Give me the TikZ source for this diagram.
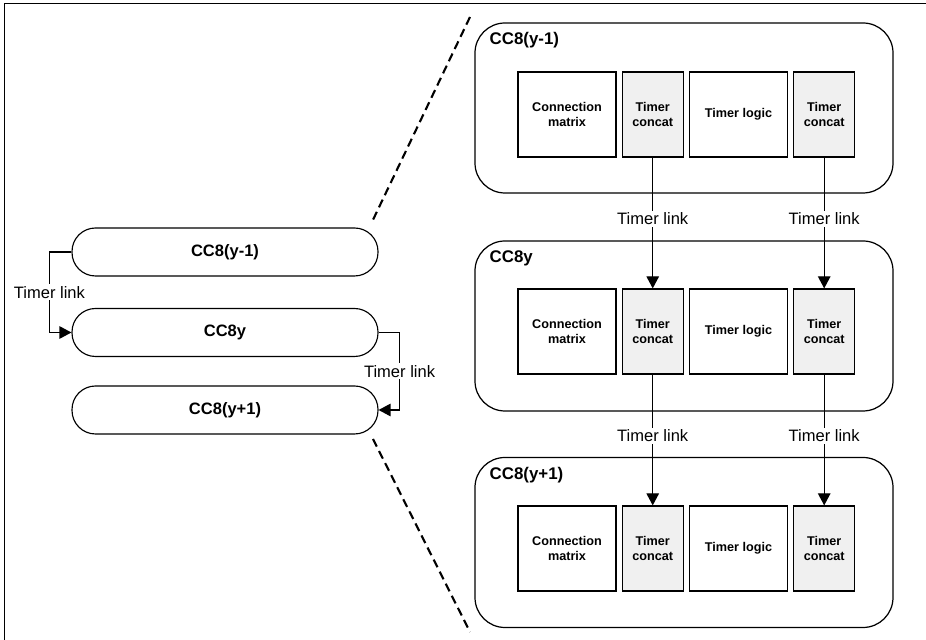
\documentclass[tikz,border=0pt]{standalone}
\usepackage{fontspec}
\setmainfont{Liberation Sans}
\usetikzlibrary{positioning,arrows.meta}
\definecolor{concat}{HTML}{F0F0F0}

\begin{document}
\begin{tikzpicture}[
  font=\fontsize{9.4}{11}\selectfont,
  frame/.style={draw=black,line width=0.8pt},
  pill/.style={draw=black,line width=0.65pt,rounded corners=0.47cm,minimum width=6.12cm,minimum height=0.96cm,font=\fontsize{9.4}{11}\selectfont\bfseries},
  cell/.style={draw=black,line width=0.7pt,rounded corners=0.6cm,minimum width=8.36cm,minimum height=3.4cm},
  celltitle/.style={anchor=west,inner sep=0pt,font=\fontsize{9.6}{11}\selectfont\bfseries},
  blk/.style={draw=black,line width=0.7pt,minimum height=1.7cm,align=center,inner sep=1pt,font=\fontsize{7.2}{8.6}\selectfont\bfseries},
  wide/.style={blk,minimum width=1.96cm},
  narrow/.style={blk,minimum width=1.22cm,fill=concat},
  lnk/.style={draw=black,line width=0.7pt,-{Triangle[length=0.24cm,width=0.25cm]}},
  lnklbl/.style={fill=white,inner sep=1pt},
  zoomline/.style={draw=black,line width=1.2pt,dash pattern=on 0.17cm off 0.1cm},
]
\useasboundingbox (0,0) rectangle (18.52,-12.8);
\draw[frame] (0.09,-12.8) -- (0.09,-0.07) -- (18.52,-0.07);

\node[pill] (l1) at (4.5,-5.04) {CC8(y-1)};
\node[pill] (l2) at (4.5,-6.65) {CC8y};
\node[pill] (l3) at (4.5,-8.2) {CC8(y+1)};
\draw[lnk] (l1.west) -- ++(-0.44,0) |- node[pos=0.25,lnklbl] {Timer link} (l2.west);
\draw[lnk] (l2.east) -- ++(0.42,0) |- node[pos=0.25,lnklbl] {Timer link} (l3.east);

\coordinate (z1) at (9.4,-0.34);
\coordinate (z2) at (7.42,-4.48);
\coordinate (z3) at (7.46,-8.78);
\coordinate (z4) at (9.4,-12.64);
\draw[zoomline] (z1) -- (z2);
\draw[zoomline] (z3) -- (z4);

\node[cell] (c1) at (13.68,-2.16) {};
\node[celltitle] (t1) at ([xshift=0.3cm,yshift=-0.36cm]c1.north west) {CC8(y-1)};
\node[wide] (m1) at (11.34,-2.29) {Connection\\matrix};
\node[narrow,right=0.1cm of m1] (a1) {Timer\\concat};
\node[wide,right=0.1cm of a1] (g1) {Timer logic};
\node[narrow,right=0.1cm of g1] (b1) {Timer\\concat};

\node[cell] (c2) at (13.68,-6.52) {};
\node[celltitle] (t2) at ([xshift=0.3cm,yshift=-0.36cm]c2.north west) {CC8y};
\node[wide] (m2) at (11.34,-6.63) {Connection\\matrix};
\node[narrow,right=0.1cm of m2] (a2) {Timer\\concat};
\node[wide,right=0.1cm of a2] (g2) {Timer logic};
\node[narrow,right=0.1cm of g2] (b2) {Timer\\concat};

\node[cell] (c3) at (13.68,-10.85) {};
\node[celltitle] (t3) at ([xshift=0.3cm,yshift=-0.36cm]c3.north west) {CC8(y+1)};
\node[wide] (m3) at (11.34,-10.97) {Connection\\matrix};
\node[narrow,right=0.1cm of m3] (a3) {Timer\\concat};
\node[wide,right=0.1cm of a3] (g3) {Timer logic};
\node[narrow,right=0.1cm of g3] (b3) {Timer\\concat};

\draw[lnk] (a1.south) -- node[pos=0.47,lnklbl] {Timer link} (a2.north);
\draw[lnk] (b1.south) -- node[pos=0.47,lnklbl] {Timer link} (b2.north);
\draw[lnk] (a2.south) -- node[pos=0.47,lnklbl] {Timer link} (a3.north);
\draw[lnk] (b2.south) -- node[pos=0.47,lnklbl] {Timer link} (b3.north);
\end{tikzpicture}
\end{document}
